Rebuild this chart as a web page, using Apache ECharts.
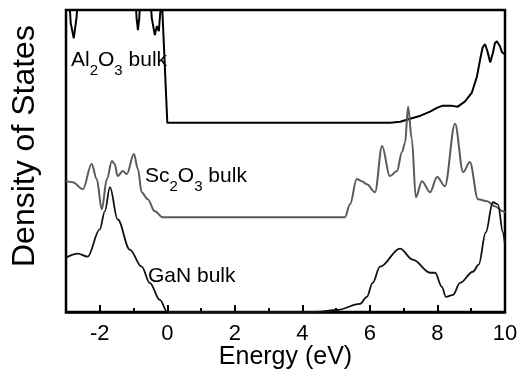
<!DOCTYPE html>
<html>
<head>
<meta charset="utf-8">
<script src="https://cdn.jsdelivr.net/npm/echarts@6/dist/echarts.min.js"></script>
<style>
  html, body { margin: 0; padding: 0; background: #fff; }
  #chart { width: 521px; height: 372px; }
</style>
</head>
<body>
<div id="chart"></div>
<script>
// DOS curves (arbitrary units, 0..30 spans the frame)
const al2o3E   = [-3.0, -2.92, -2.86, -2.77, -2.69, -2.62, -0.96, -0.91, -0.87, -0.83, -0.79, -0.52, -0.46, -0.37, -0.31, -0.25, -0.21, -0.16, 0.0,
                  6.6, 6.9, 7.19, 7.5, 7.78, 8.0, 8.16, 8.4, 8.6, 8.81, 9.02, 9.17, 9.27, 9.34, 9.41, 9.48, 9.56, 9.64, 9.7, 9.76, 9.85, 9.91, 10.0];
const al2o3Dos = [33, 32, 28.7, 27.2, 29.2, 32, 32, 29.2, 28.0, 29.2, 32, 32, 29.2, 27.5, 28.4, 27.9, 29.7, 31, 18.8,
                  18.8, 18.9, 19.2, 19.5, 19.9, 20.3, 20.5, 20.5, 20.4, 20.9, 21.8, 23.4, 25.2, 26.3, 26.6, 25.9, 24.8, 25.7, 26.7, 26.9, 26.4, 25.8, 25.6];

const sc2o3E   = [-3.0, -2.8, -2.5, -2.24, -2.09, -1.94, -1.79, -1.64, -1.56, -1.47, -1.32, -1.2, -0.99, -0.87, -0.76, -0.58, -0.37, -0.13,
                  5.26, 5.41, 5.61, 5.76, 5.91, 6.15, 6.36, 6.59, 6.8, 6.95, 7.04, 7.13, 7.24, 7.36, 7.54, 7.78, 7.99, 8.22, 8.52, 8.76, 8.96, 9.2, 9.47, 9.7, 9.94, 10.0];
const sc2o3Dos = [13.0, 12.9, 12.2, 14.7, 13.2, 10.2, 13.2, 15.0, 14.7, 13.5, 14.0, 13.7, 15.7, 14.2, 11.9, 11.2, 10.0, 9.4,
                  9.4, 10.7, 13.2, 13.0, 12.7, 11.9, 16.5, 13.5, 14.0, 15.9, 16.8, 20.4, 17.2, 11.4, 13.0, 11.9, 13.4, 12.5, 18.7, 13.9, 14.9, 11.2, 11.0, 10.5, 10.0, 9.9];

const ganE     = [-3.0, -2.65, -2.36, -2.0, -1.85, -1.7, -1.47, -1.11, -0.76, -0.52, -0.22, 0.0,
                  4.43, 5.02, 5.7, 5.91, 6.08, 6.3, 6.89, 7.27, 7.78, 7.93, 8.13, 8.25, 8.46, 8.67, 9.05, 9.22, 9.43, 9.64, 9.79, 9.94, 10.0];
const ganDos   = [5.4, 5.8, 5.5, 8.2, 10.0, 12.4, 9.2, 6.2, 4.5, 2.9, 1.2, 0,
                  0, 0.2, 0.8, 1.5, 2.9, 4.5, 6.3, 5.2, 3.9, 3.9, 2.5, 1.5, 1.7, 2.9, 4.0, 4.7, 7.9, 10.9, 10.7, 7.9, 6.7];

const majorTicks = [-2, 0, 2, 4, 6, 8, 10];
const minorTicks = [-1, 1, 3, 5, 7, 9];

const pairs = (xs, ys) => xs.map((x, i) => [x, ys[i]]);
const FONT = '"Liberation Sans", Arial, sans-serif';

const sub = { fontSize: 15, lineHeight: 15, verticalAlign: 'top', padding: [13, 0, 0, 0], fontFamily: FONT, fill: '#000' };
const main = { fontSize: 21, lineHeight: 24, verticalAlign: 'top', fontFamily: FONT, fill: '#000' };

const chart = echarts.init(document.getElementById('chart'));
chart.setOption({
  animation: false,
  grid: { left: 66, right: 16, top: 10, bottom: 60, outerBoundsMode: 'none', containLabel: false,
          show: true, borderColor: '#000', borderWidth: 2.5 },
  xAxis: [{
    type: 'value', min: -3, max: 10,
    name: 'Energy (eV)', nameLocation: 'middle', nameGap: 33, nameMoveOverlap: false,
    nameTextStyle: { fontSize: 25, color: '#000', fontFamily: FONT },
    axisLine: { show: true, lineStyle: { color: '#000', width: 2.5 } },
    axisTick: { show: true, inside: true, length: 7, customValues: majorTicks, lineStyle: { color: '#000', width: 2 } },
    axisLabel: { customValues: majorTicks, fontSize: 22, color: '#000', margin: 11, fontFamily: FONT },
    splitLine: { show: false }
  }, {
    type: 'value', min: -3, max: 10, position: 'bottom',
    axisLine: { show: false },
    axisTick: { show: true, inside: true, length: 4, customValues: minorTicks, lineStyle: { color: '#000', width: 2 } },
    axisLabel: { show: false },
    splitLine: { show: false }
  }],
  yAxis: {
    type: 'value', min: 0, max: 30,
    axisLine: { show: false }, axisTick: { show: false }, axisLabel: { show: false }, splitLine: { show: false }
  },
  series: [
    { name: 'Al2O3 bulk', type: 'line', data: pairs(al2o3E, al2o3Dos), showSymbol: false, clip: true,
      lineStyle: { color: '#000', width: 2 } },
    { name: 'Sc2O3 bulk', type: 'line', data: pairs(sc2o3E, sc2o3Dos), showSymbol: false, smooth: 0.35, smoothMonotone: 'x',
      lineStyle: { color: '#5a5a5a', width: 2 } },
    { name: 'GaN bulk', type: 'line', data: pairs(ganE, ganDos), showSymbol: false, smooth: 0.35, smoothMonotone: 'x',
      lineStyle: { color: '#111', width: 1.8 } }
  ],
  graphic: [
    { type: 'text', x: 9, y: 267, rotation: Math.PI / 2,
      style: { text: 'Density of States', font: '32px ' + FONT, fill: '#000' } },
    { type: 'text', x: 71, y: 50,
      style: { text: '{m|Al}{s|2}{m|O}{s|3}{m| bulk}', rich: { m: main, s: sub } } },
    { type: 'text', x: 145, y: 166,
      style: { text: '{m|Sc}{s|2}{m|O}{s|3}{m| bulk}', rich: { m: main, s: sub } } },
    { type: 'text', x: 148, y: 266,
      style: { text: '{m|GaN bulk}', rich: { m: main } } }
  ]
});
</script>
</body>
</html>
